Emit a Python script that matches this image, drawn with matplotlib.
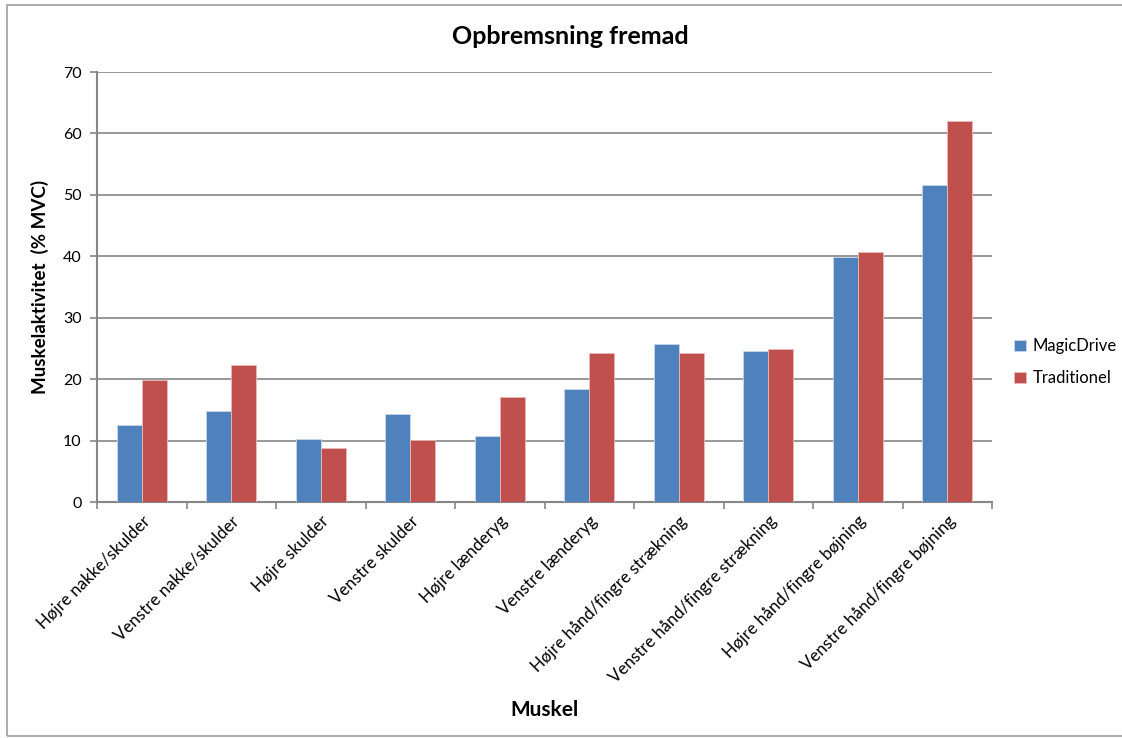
import numpy as np
import matplotlib
matplotlib.use("Agg")
import matplotlib.pyplot as plt
from matplotlib.patches import Rectangle

plt.rcParams['font.family'] = ['Lato', 'DejaVu Sans']

muskler = ['Højre nakke/skulder', 'Venstre nakke/skulder', 'Højre skulder',
           'Venstre skulder', 'Højre lænderyg', 'Venstre lænderyg',
           'Højre hånd/fingre strækning', 'Venstre hånd/fingre strækning',
           'Højre hånd/fingre bøjning', 'Venstre hånd/fingre bøjning']
magicdrive = [12.5, 14.8, 10.3, 14.25, 10.8, 18.4, 25.7, 24.55, 39.9, 51.6]
traditionel = [19.9, 22.35, 8.8, 10.1, 17.05, 24.25, 24.25, 24.85, 40.65, 62.0]
yticks = [0, 10, 20, 30, 40, 50, 60, 70]

blaa = '#4F81BD'
roed = '#C0504D'
graa = '#868686'

fig = plt.figure(figsize=(11.22, 7.38), dpi=100)
ax = fig.add_axes([97/1122, 1 - 502/738, (992 - 97)/1122, (502 - 72)/738])

x = np.arange(len(muskler))
w = 0.28
ax.bar(x - w/2, magicdrive, w, color=blaa, edgecolor='#c9d7ea', linewidth=0.6,
       label='MagicDrive', zorder=3)
ax.bar(x + w/2, traditionel, w, color=roed, edgecolor='#eab9b8', linewidth=0.6,
       label='Traditionel', zorder=3)

ax.set_xlim(-0.5, len(muskler) - 0.5)
ax.set_ylim(0, 70)
ax.set_yticks(yticks)
ax.set_yticklabels([str(v) for v in yticks], fontsize=11.5)
for v in yticks[1:]:
    ax.axhline(v, color=graa, linewidth=1.2, zorder=1)

# category ticks on boundaries, labels at centres
ax.set_xticks(np.arange(len(muskler) + 1) - 0.5)
ax.set_xticklabels([])
ax.set_xticks(x, minor=True)
ax.set_xticklabels(muskler, minor=True, rotation=45, ha='right',
                   rotation_mode='anchor', fontsize=12.2)
ax.tick_params(axis='x', which='minor', length=0, pad=8)
ax.tick_params(axis='x', which='major', length=5, color=graa, width=1.2)
ax.tick_params(axis='y', length=5, color=graa, width=1.2, pad=6)

for s in ['top', 'right']:
    ax.spines[s].set_visible(False)
for s in ['left', 'bottom']:
    ax.spines[s].set_color(graa)
    ax.spines[s].set_linewidth(1.5)

fig.text(570/1122, 1 - 37/738, 'Opbremsning fremad', fontsize=18,
         fontweight='bold', ha='center', va='center')
ax.set_ylabel('Muskelaktivitet  (% MVC)', fontsize=13.5, fontweight='bold', labelpad=10)
fig.text(545/1122, 1 - 710/738, 'Muskel', fontsize=15, fontweight='bold',
         ha='center', va='center')

leg = ax.legend(loc='center left', bbox_to_anchor=(1.008, 0.325), frameon=False,
                fontsize=12, handlelength=0.7, handleheight=0.7,
                handletextpad=0.4, labelspacing=0.95)

fig.patches.append(Rectangle((7/1122, 2/738), 1120/1122, 731/738,
                             transform=fig.transFigure, fill=False,
                             edgecolor='#a0a0a0', linewidth=1.2))

fig.savefig('out.png', dpi=100)
